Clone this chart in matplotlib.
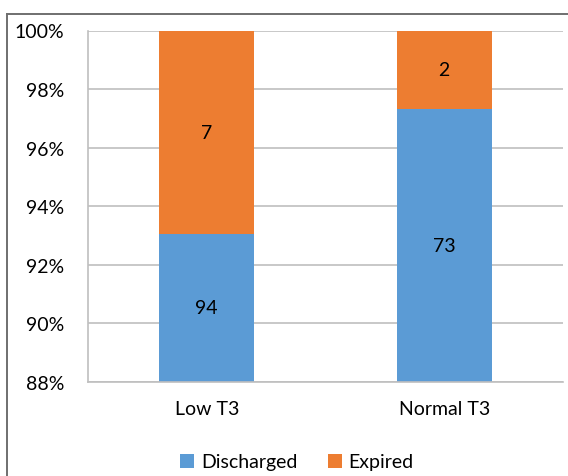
import matplotlib
matplotlib.use("Agg")
import matplotlib.pyplot as plt
from matplotlib.lines import Line2D
from matplotlib.ticker import FuncFormatter

categories = ["Low T3", "Normal T3"]
discharged = [94, 73]
expired = [7, 2]
series_names = ["Discharged", "Expired"]
colors = ["#5B9BD5", "#ED7D31"]
yticks = [88, 90, 92, 94, 96, 98, 100]

plt.rcParams["font.family"] = ["Lato", "DejaVu Sans"]

fig = plt.figure(figsize=(5.68, 4.77), dpi=100)
ax = fig.add_axes([88 / 568, 1 - 383 / 477, (563 - 88) / 568, (383 - 31.5) / 477])

totals = [d + e for d, e in zip(discharged, expired)]
dis_pct = [d / t * 100 for d, t in zip(discharged, totals)]
exp_pct = [e / t * 100 for e, t in zip(expired, totals)]

x = list(range(len(categories)))
ax.bar(x, dis_pct, width=0.4, color=colors[0], label=series_names[0], zorder=2)
ax.bar(x, exp_pct, width=0.4, bottom=dis_pct, color=colors[1], label=series_names[1], zorder=2)

fs = 14
for i in x:
    lo = yticks[0]
    ax.text(i, (lo + dis_pct[i]) / 2, str(discharged[i]), ha="center", va="center",
            fontsize=fs, color="black", zorder=3)
    ax.text(i, dis_pct[i] + exp_pct[i] / 2, str(expired[i]), ha="center", va="center",
            fontsize=fs, color="black", zorder=3)

ax.set_xlim(-0.5, 1.5)
ax.set_ylim(88, 100)
ax.set_yticks(yticks)
ax.yaxis.set_major_formatter(FuncFormatter(lambda v, p: f"{int(v)}%"))
ax.set_xticks(x)
ax.set_xticklabels(categories)
ax.tick_params(axis="y", length=0, pad=17, labelsize=fs)
ax.tick_params(axis="x", length=0, pad=13, labelsize=fs)
ax.grid(axis="y", color="#BFBFBF", linewidth=1.2, zorder=0)
for s in ["top", "right"]:
    ax.spines[s].set_visible(False)
for s in ["left", "bottom"]:
    ax.spines[s].set_color("#BFBFBF")
    ax.spines[s].set_linewidth(1.2)

fig.legend(loc="center", bbox_to_anchor=(0.523, 1 - 463 / 477), ncol=2, frameon=False,
           fontsize=fs, handlelength=0.7, handleheight=0.7, handletextpad=0.35,
           columnspacing=1.6)

# outer frame
fig.add_artist(Line2D([7 / 568, 7 / 568], [0, 1 - 15 / 477], transform=fig.transFigure,
                      color="#6F6F6F", linewidth=1.4))
fig.add_artist(Line2D([7 / 568, 1], [1 - 15 / 477, 1 - 15 / 477], transform=fig.transFigure,
                      color="#6F6F6F", linewidth=1.4))

fig.savefig("out.png", dpi=100)
